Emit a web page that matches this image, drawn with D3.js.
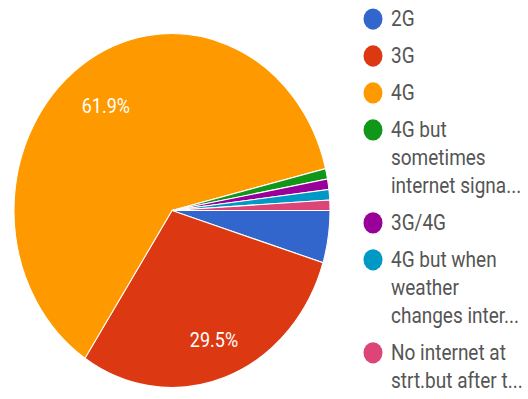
<!DOCTYPE html>
<html>
<head>
<meta charset="utf-8">
<script src="https://cdn.jsdelivr.net/npm/d3@7"></script>
<style>
  html, body { margin: 0; padding: 0; background: #fff; }
  svg { display: block; }
</style>
</head>
<body>
<svg id="chart" width="528" height="399"></svg>
<script>
// Survey answers: network type available to respondents
const categories = ["2G", "3G", "4G", "4G but sometimes internet signa…", "3G/4G",
  "4G but when weather changes inter…", "No internet at strt.but after t…"];
const counts = [5, 31, 65, 1, 1, 1, 1];
const colors = ["#3366cc", "#dc3912", "#ff9900", "#109618", "#990099", "#0099c6", "#dd4477"];
// Legend text as wrapped lines
const legendLines = [
  ["2G"],
  ["3G"],
  ["4G"],
  ["4G but", "sometimes", "internet signa..."],
  ["3G/4G"],
  ["4G but when", "weather", "changes inter..."],
  ["No internet at", "strt.but after t..."]
];

const svg = d3.select("#chart");
// whole drawing is slightly taller than wide
const root = svg.append("g").attr("transform", "scale(1,1.12)");

const cx = 172, cy = 188, radius = 158;
const total = d3.sum(counts);

const pie = d3.pie()
  .sort(null)
  .value(d => d)
  .startAngle(Math.PI / 2)
  .endAngle(Math.PI / 2 + 2 * Math.PI);

const arcs = pie(counts);
const arc = d3.arc().innerRadius(0).outerRadius(radius);
const labelArc = d3.arc().innerRadius(radius * 0.75).outerRadius(radius * 0.75);

const pieG = root.append("g").attr("transform", `translate(${cx},${cy})`);

pieG.selectAll("path.slice")
  .data(arcs)
  .join("path")
  .attr("class", "slice")
  .attr("d", arc)
  .attr("fill", (d, i) => colors[i])
  .attr("stroke", "#ffffff")
  .attr("stroke-width", 1);

const fmt = d3.format(".1%");
pieG.selectAll("text.pct")
  .data(arcs.filter(d => d.value / total > 0.1))
  .join("text")
  .attr("class", "pct")
  .attr("transform", d => {
    const [x, y] = labelArc.centroid(d);
    return `translate(${x + 2},${y + 4})`;
  })
  .attr("text-anchor", "middle")
  .attr("dominant-baseline", "central")
  .attr("fill", "#ffffff")
  .attr("font-family", "Roboto, sans-serif")
  .attr("font-size", 18)
  .text(d => fmt(d.value / total));

// Legend
const legend = root.append("g");
const lineH = 25, entryGap = 33;
let y = 17;
legendLines.forEach((lines, i) => {
  const item = legend.append("g");
  item.append("circle")
    .attr("cx", 373)
    .attr("cy", y)
    .attr("r", 9.5)
    .attr("fill", colors[i]);
  lines.forEach((ln, j) => {
    item.append("text")
      .attr("x", 391)
      .attr("y", y + j * lineH)
      .attr("dominant-baseline", "central")
      .attr("fill", "#555555")
      .attr("font-family", "Roboto, sans-serif")
      .attr("font-size", 19)
      .text(ln);
  });
  y += (lines.length - 1) * lineH + entryGap;
});
</script>
</body>
</html>
